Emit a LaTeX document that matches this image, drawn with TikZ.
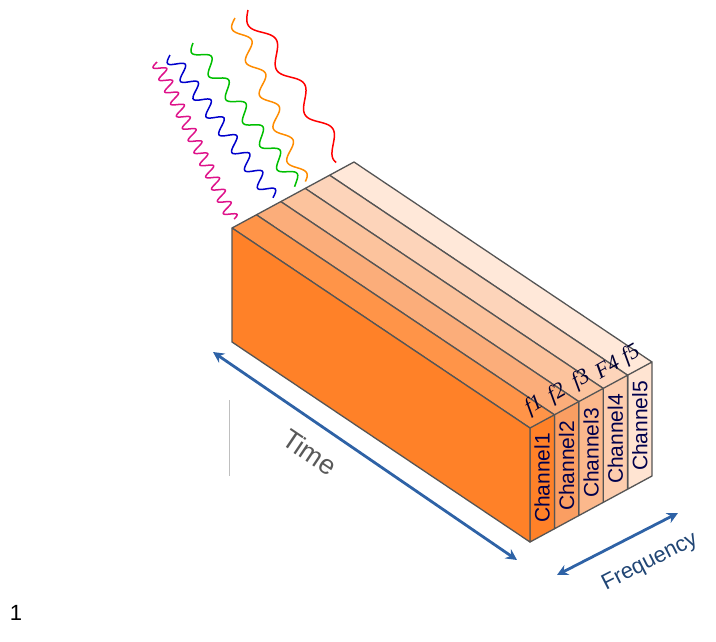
\documentclass[tikz,border=0pt]{standalone}
\usepackage{fontspec}
\setmainfont{Liberation Sans}
\newfontfamily\serifit{Liberation Serif}
\usetikzlibrary{arrows.meta}
\definecolor{ca}{HTML}{FF8128}
\definecolor{cb}{HTML}{FA9E62}
\definecolor{cc}{HTML}{FBB88C}
\definecolor{cd}{HTML}{FDCDAE}
\definecolor{ce}{HTML}{FFE4D2}
\definecolor{arr}{HTML}{2E62A6}
\definecolor{edge}{HTML}{555555}
\tikzset{
 slab/.style={draw=edge,line width=1.3pt,line join=round},
 chlab/.style={rotate=90,text=blue!30!black,font=\fontsize{21}{21}\selectfont,inner sep=0pt},
 flab/.style={rotate=30,font=\serifit\itshape\fontsize{22}{22}\selectfont,text=blue!20!black,inner sep=0pt},
 bluearrow/.style={draw=arr,line width=2.8pt,{Stealth[length=11pt,width=11pt]}-{Stealth[length=11pt,width=11pt]}},
 wave/.style={line width=1.5pt,smooth,samples=120}
}
\begin{document}
\begin{tikzpicture}[x=1pt,y=-1pt]
\useasboundingbox (0,0) rectangle (716,641);
% waves
\begin{scope}[shift={(248,10)},rotate=-57.6]
 \draw[wave,red] plot[domain=0:176] (\x,{8*sin(\x/53*360)});
\end{scope}
\begin{scope}[shift={(235,18)},rotate=-67.5]
 \draw[wave,orange!90!yellow] plot[domain=0:178] (\x,{7*sin(\x/36*360)});
\end{scope}
\begin{scope}[shift={(193,43)},rotate=-53.8]
 \draw[wave,green!75!black] plot[domain=0:176] (\x,{7*sin(\x/29*360)});
\end{scope}
\begin{scope}[shift={(170,55)},rotate=-54.2]
 \draw[wave,blue!80!black] plot[domain=0:176] (\x,{7*sin(\x/22*360)});
\end{scope}
\begin{scope}[shift={(157,62)},rotate=-64.3]
 \draw[wave,magenta!85!violet,samples=300] plot[domain=0:175] (\x,{6*sin(\x/13.5*360)});
\end{scope}
% slabs
\foreach \i/\c in {4/ce,3/cd,2/cc,1/cb,0/ca}{
 \pgfmathsetmacro{\bx}{232+24.4*\i}
 \pgfmathsetmacro{\by}{228-13.2*\i}
 \begin{scope}[shift={(\bx,\by)}]
  \fill[\c!85!white] (0,0) -- (24.4,-13.2) -- (322.4,186.8) -- (298,200) -- cycle;
  \draw[slab] (0,0) -- (24.4,-13.2) -- (322.4,186.8);
  \draw[slab] (0,0) -- (298,200);
  \filldraw[slab,fill=\c] (298,200) -- (322.4,186.8) -- (322.4,300.8) -- (298,314) -- cycle;
  \ifnum\i=0
   \filldraw[slab,fill=\c] (0,0) -- (298,200) -- (298,314) -- (0,114) -- cycle;
  \fi
 \end{scope}
}
% channel labels
\node[chlab] (c1) at (542.2,478) {Channel1};
\node[chlab] (c2) at (566.6,466) {Channel2};
\node[chlab] (c3) at (591,453) {Channel3};
\node[chlab] (c4) at (615.4,439) {Channel4};
\node[chlab] (c5) at (639.8,426) {Channel5};
\node[flab] (f1) at (534,406) {f1};
\node[flab] (f2) at (557,394) {f2};
\node[flab] (f3) at (581,380) {f3};
\node[flab] (f4) at (607,367) {F4};
\node[flab] (f5) at (631,355) {f5};
% axes
\coordinate (t1) at (213,352); \coordinate (t2) at (517,560);
\draw[bluearrow] (t1) -- (t2);
\coordinate (q1) at (557,575); \coordinate (q2) at (678,513);
\draw[bluearrow] (q1) -- (q2);
\node[rotate=-34,text=black!65,font=\fontsize{27}{27}\selectfont] (time) at (310,452) {Time};
\node[rotate=27,text=arr!70!black,font=\fontsize{22}{22}\selectfont] (freq) at (650,562) {Frequency};
\draw[black!25,line width=0.4pt] (229,400) -- (229,476);
\node[font=\fontsize{22}{22}\selectfont] (one) at (16,613) {1};
\end{tikzpicture}
\end{document}
